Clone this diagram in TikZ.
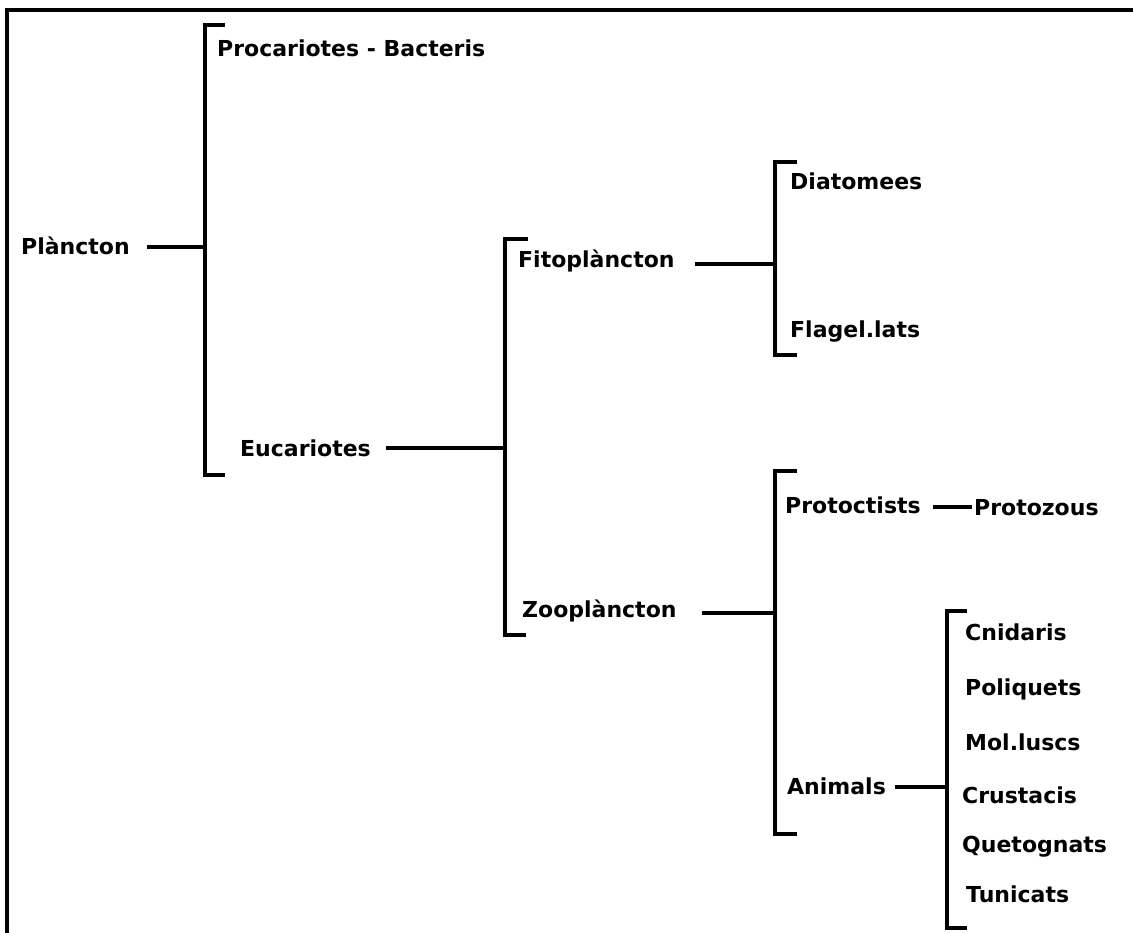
\documentclass[tikz,border=0pt]{standalone}
\usepackage{fontspec}
\setmainfont{DejaVu Sans}
\begin{document}
\begin{tikzpicture}[x=1pt,y=-1pt,
  lbl/.style={anchor=base west,inner sep=0pt,font=\bfseries\fontsize{22}{26}\selectfont},
  ln/.style={line width=3.6pt},
  brk/.style={line width=3.6pt,line cap=butt,line join=miter}]
\useasboundingbox (0,0) rectangle (1133,933);
\fill[white] (0,0) rectangle (1133,933);
% frame
\draw[line width=3.5pt] (7,933) -- (7,10) -- (1133,10);
% labels
\node[lbl] (plancton) at (21,255) {Plàncton};
\node[lbl] (procar) at (217,57) {Procariotes - Bacteris};
\node[lbl] (eucar) at (240,456) {Eucariotes};
\node[lbl] (fito) at (518,268) {Fitoplàncton};
\node[lbl] (zoo) at (522,617) {Zooplàncton};
\node[lbl] (diat) at (790,190) {Diatomees};
\node[lbl] (flag) at (790,338) {Flagel.lats};
\node[lbl] (protoc) at (785,513) {Protoctists};
\node[lbl] (protoz) at (974,515) {Protozous};
\node[lbl] (anim) at (787,794) {Animals};
\node[lbl] (cnid) at (965,640) {Cnidaris};
\node[lbl] (poli) at (965,695) {Poliquets};
\node[lbl] (moll) at (965,750) {Mol.luscs};
\node[lbl] (crus) at (962,803) {Crustacis};
\node[lbl] (quet) at (962,852) {Quetognats};
\node[lbl] (tuni) at (966,902) {Tunicats};
% bracket coordinates
\coordinate (b1t) at (205,25);  \coordinate (b1b) at (205,475); \coordinate (b1j) at (205,247);
\coordinate (b2t) at (505,239); \coordinate (b2b) at (505,635); \coordinate (b2j) at (505,448);
\coordinate (b3t) at (775,162); \coordinate (b3b) at (775,355); \coordinate (b3j) at (775,264);
\coordinate (b4t) at (775,471); \coordinate (b4b) at (775,834); \coordinate (b4j) at (775,613);
\coordinate (b5t) at (947,611); \coordinate (b5b) at (947,928); \coordinate (b5j) at (947,787);
% brackets
\draw[brk] ([xshift=20pt]b1t) -- (b1t) -- (b1b) -- ([xshift=20pt]b1b);
\draw[brk] ([xshift=23pt]b2t) -- (b2t) -- (b2b) -- ([xshift=21pt]b2b);
\draw[brk] ([xshift=22pt]b3t) -- (b3t) -- (b3b) -- ([xshift=22pt]b3b);
\draw[brk] ([xshift=22pt]b4t) -- (b4t) -- (b4b) -- ([xshift=22pt]b4b);
\draw[brk] ([xshift=20pt]b5t) -- (b5t) -- (b5b) -- ([xshift=20pt]b5b);
% connector starts
\coordinate (c1) at (147,247);
\coordinate (c2) at (386,448);
\coordinate (c3) at (695,264);
\coordinate (c4) at (702,613);
\coordinate (c5) at (895,787);
\coordinate (c6) at (933,507);
\coordinate (c7) at (972,507);
% connectors
\draw[ln] (c1) -- (b1j);
\draw[ln] (c2) -- (b2j);
\draw[ln] (c3) -- (b3j);
\draw[ln] (c4) -- (b4j);
\draw[ln] (c5) -- (b5j);
\draw[ln] (c6) -- (c7);
\end{tikzpicture}
\end{document}
